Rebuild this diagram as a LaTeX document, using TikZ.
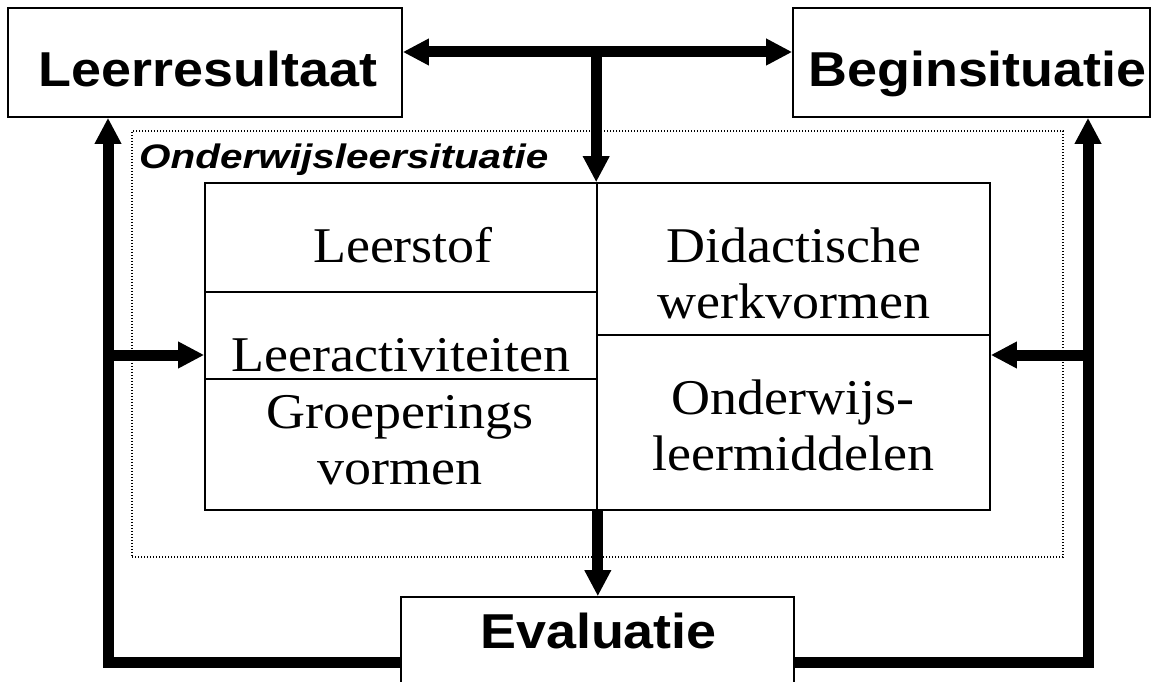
\documentclass[tikz,border=0pt]{standalone}
\usepackage{fontspec}
\setmainfont{Liberation Serif}
\newfontfamily\lsans{Liberation Sans}
\usetikzlibrary{arrows.meta}
\newcommand{\sertxt}[1]{\scalebox{1.08}[1]{\fontsize{50}{56}\selectfont #1}}
\newcommand{\sertwo}[2]{\scalebox{1.08}[1]{\fontsize{50}{56}\selectfont\vtop{\halign{\hfil##\hfil\cr #1\cr #2\cr}}}}
\newcommand{\titletxt}[1]{\scalebox{1.1}[1]{\lsans\bfseries\fontsize{49}{56}\selectfont #1}}
\tikzset{
  cell/.style={draw, line width=1.6pt, rectangle, inner sep=0pt},
  txt/.style={inner sep=0pt, anchor=base},
  dotbox/.style={draw, line width=1.3pt, dash pattern=on 1.3pt off 1.7pt, rectangle, inner sep=0pt},
  fatline/.style={line width=11pt, line join=miter},
  fattip/.style={-{Triangle[width=25pt,length=26pt]}},
  fatboth/.style={{Triangle[width=25pt,length=26pt]}-{Triangle[width=25pt,length=26pt]}}
}
\begin{document}
\begin{tikzpicture}[x=1pt,y=-1pt]
\useasboundingbox (0,0) rectangle (1157,682);
\fill[white] (0,0) rectangle (1157,682);

% outer boxes
\node[cell, minimum width=394pt, minimum height=109pt] (lr) at (205,62.5) {};
\node[cell, minimum width=357pt, minimum height=109pt] (bs) at (971.5,62.5) {};
\node[cell, minimum width=393pt, minimum height=120pt] (ev) at (597.5,657) {};
\node[txt] (lrt) at (208,87) {\titletxt{Leerresultaat}};
\node[txt] (bst) at (977.5,87) {\titletxt{Beginsituatie}};
\node[txt] (evt) at (598.5,648) {\titletxt{Evaluatie}};

% dotted frame
\node[dotbox, minimum width=931pt, minimum height=426pt] (ols) at (597.5,344) {};
\node[inner sep=0pt, anchor=base west] (olst) at (139,168)
  {\scalebox{1.19}[1]{\lsans\bfseries\itshape\fontsize{34}{40}\selectfont Onderwijsleersituatie}};

% inner cells
\node[cell, minimum width=392pt, minimum height=109pt] (leerstof) at (401,237.5) {};
\node[cell, minimum width=392pt, minimum height=87pt] (leeract) at (401,335.5) {};
\node[cell, minimum width=392pt, minimum height=131pt] (groep) at (401,444.5) {};
\node[cell, minimum width=393pt, minimum height=152pt] (didact) at (793.5,259) {};
\node[cell, minimum width=393pt, minimum height=175pt] (onderw) at (793.5,422.5) {};

\node[txt] (leerstoft) at (403,262) {\sertxt{Leerstof}};
\node[txt] (leeractt) at (401,371) {\sertxt{Leeractiviteiten}};
\node[txt] (groept) at (400,428) {\sertwo{Groeperings}{vormen}};
\node[txt] (didactt) at (794,262) {\sertwo{Didactische}{werkvormen}};
\node[txt] (onderwt) at (793,414) {\sertwo{Onderwijs-}{leermiddelen}};

% connectors
\coordinate (tj) at (597,52);
\coordinate (lb) at (108,662);
\coordinate (rb) at (1088,662);
\coordinate (lm) at (108,355);
\coordinate (rm) at (1088,355);

\draw[fatline, fatboth] (tj -| lr.east) -- (tj -| bs.west);
\draw[fatline, fattip] (didact.north west |- tj) -- (didact.north west);
\draw[fatline, fattip] (ev.west |- lb) -- (lb) -- (lb |- lr.south);
\draw[fatline, fattip] (ev.east |- rb) -- (rb) -- (rb |- bs.south);
\draw[fatline, fattip] (lm) -- (lm -| leeract.west);
\draw[fatline, fattip] (rm) -- (rm -| onderw.east);
\draw[fatline, fattip] (groep.south east) -- (groep.south east |- ev.north);
\end{tikzpicture}
\end{document}
